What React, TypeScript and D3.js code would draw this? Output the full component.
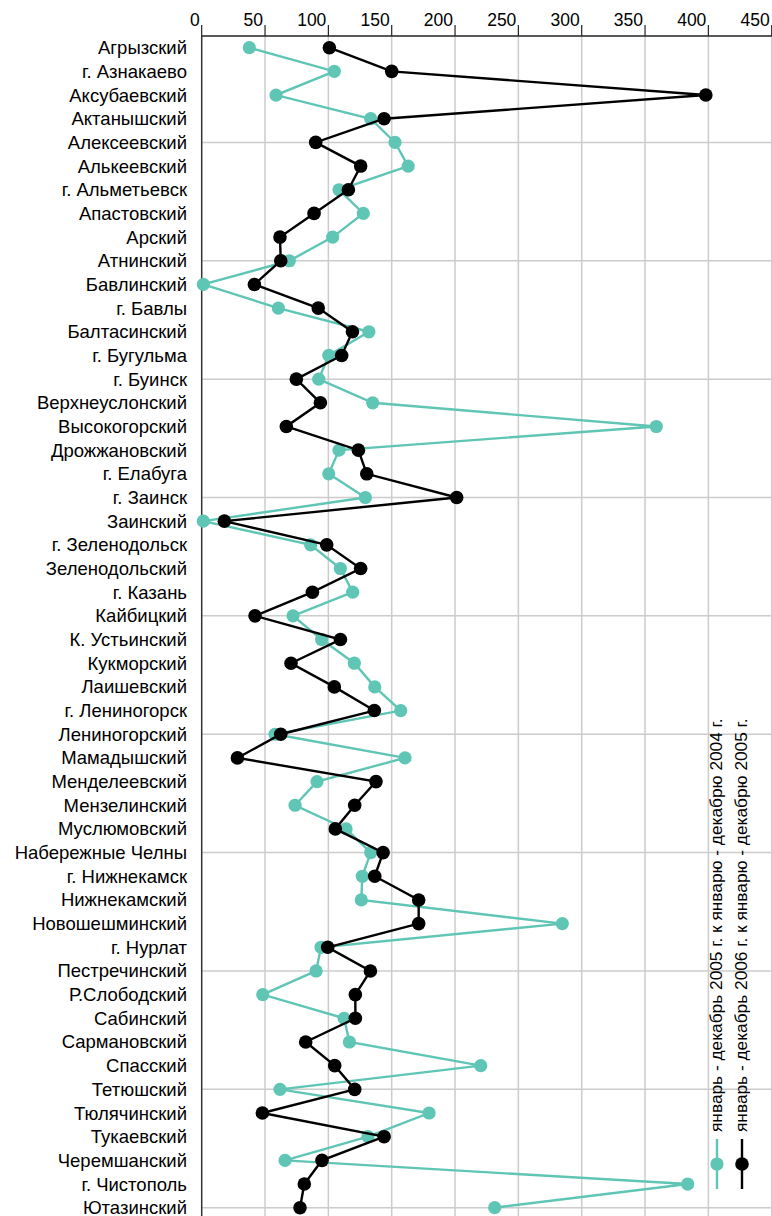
import * as d3 from 'd3'

const categories = [
  'Агрызский', 'г. Азнакаево', 'Аксубаевский', 'Актанышский', 'Алексеевский',
  'Алькеевский', 'г. Альметьевск', 'Апастовский', 'Арский', 'Атнинский',
  'Бавлинский', 'г. Бавлы', 'Балтасинский', 'г. Бугульма', 'г. Буинск',
  'Верхнеуслонский', 'Высокогорский', 'Дрожжановский', 'г. Елабуга', 'г. Заинск',
  'Заинский', 'г. Зеленодольск', 'Зеленодольский', 'г. Казань', 'Кайбицкий',
  'К. Устьинский', 'Кукморский', 'Лаишевский', 'г. Лениногорск', 'Лениногорский',
  'Мамадышский', 'Менделеевский', 'Мензелинский', 'Муслюмовский', 'Набережные Челны',
  'г. Нижнекамск', 'Нижнекамский', 'Новошешминский', 'г. Нурлат', 'Пестречинский',
  'Р.Слободский', 'Сабинский', 'Сармановский', 'Спасский', 'Тетюшский',
  'Тюлячинский', 'Тукаевский', 'Черемшанский', 'г. Чистополь', 'Ютазинский',
]

// январь - декабрь 2005 г. к январю - декабрю 2004 г.
const values2005 = [
  37.6, 104.7, 58.7, 133.4, 152.6, 163, 108.4, 127.6, 103.4, 69.2,
  1.3, 60.5, 132, 100.3, 92.4, 135, 358.9, 108.4, 100.3, 129.2,
  1.3, 86, 109.5, 119.2, 72.1, 94.7, 120.5, 136.6, 157.1, 57.9,
  160.5, 91, 73.7, 114, 133.4, 126.8, 126, 284.7, 94.2, 90.3,
  48.2, 112.4, 116.6, 220.3, 61.8, 179.5, 131.3, 65.8, 383.7, 231.3,
]

// январь - декабрь 2006 г. к январю - декабрю 2005 г.
const values2006 = [
  100.8, 150, 398, 144, 90, 125.5, 115.8, 88.7, 61.8, 62.4,
  41.6, 92, 119, 110.5, 74.7, 93.7, 66.8, 123.7, 130.3, 201.3,
  17.9, 98.7, 125.5, 87.4, 42.1, 109.5, 70.5, 104.7, 136.3, 62.4,
  28.2, 137.6, 120.8, 105.5, 143.2, 136.6, 171.3, 171.3, 99.5, 133.2,
  121.3, 121.3, 82.1, 105, 120.8, 47.9, 144, 95, 81, 77.6,
]

const xTicks = [0, 50, 100, 150, 200, 250, 300, 350, 400, 450]

const legendLabels = [
  'январь - декабрь 2005 г. к январю - декабрю 2004 г.',
  'январь - декабрь 2006 г. к январю - декабрю 2005 г.',
]

const WIDTH = 772
const HEIGHT = 1216
const TEAL = '#5fc5b5'
const GRID = '#cccccc'
const AXIS_Y = 36
const LEFT = 201.7

export default function App() {
  const x = d3.scaleLinear().domain([0, 450]).range([LEFT, 771.7])
  const y = d3.scalePoint<string>().domain(categories).range([47.7, 1207.7])

  const line = d3
    .line<number>()
    .x((d) => x(d))
    .y((_, i) => y(categories[i]) ?? 0)

  const series = [
    { values: values2005, color: TEAL, r: 6.6 },
    { values: values2006, color: '#000', r: 6.8 },
  ]

  const hGrid = categories.filter((_, i) => (i + 1) % 5 === 0)
  const legendX = [717, 742]
  const legendY = 1164

  return (
    <svg
      width={WIDTH}
      height={HEIGHT}
      style={{ position: 'absolute', left: 0, top: 0, background: '#fff' }}
      fontFamily="'Liberation Sans', Arial, sans-serif"
    >
      {/* grid */}
      {xTicks.slice(1).map((t) => (
        <line key={'v' + t} x1={x(t)} x2={x(t)} y1={AXIS_Y} y2={HEIGHT} stroke={GRID} strokeWidth={1.5} />
      ))}
      {hGrid.map((c) => (
        <line key={'h' + c} x1={LEFT} x2={WIDTH} y1={y(c)} y2={y(c)} stroke={GRID} strokeWidth={1.5} />
      ))}

      {/* axes */}
      <line x1={LEFT} x2={WIDTH} y1={AXIS_Y} y2={AXIS_Y} stroke="#222" strokeWidth={1.5} />
      <line x1={LEFT} x2={LEFT} y1={AXIS_Y} y2={HEIGHT} stroke="#333" strokeWidth={1.5} />
      {xTicks.map((t) => (
        <g key={'t' + t}>
          <line x1={x(t)} x2={x(t)} y1={AXIS_Y - 11} y2={AXIS_Y} stroke="#222" strokeWidth={1.2} />
          <text x={x(t) - 2} y={AXIS_Y - 10} textAnchor="end" fontSize={17.5} fill="#000">
            {t}
          </text>
        </g>
      ))}

      {/* category labels */}
      {categories.map((c) => (
        <text key={c} x={187} y={(y(c) ?? 0) + 6.5} textAnchor="end" fontSize={18.5} fill="#000">
          {c}
        </text>
      ))}

      {/* series */}
      {series.map((s, k) => (
        <g key={'s' + k}>
          <path d={line(s.values) ?? ''} fill="none" stroke={s.color} strokeWidth={2.4} />
          {s.values.map((v, i) => (
            <circle key={i} cx={x(v)} cy={y(categories[i])} r={s.r} fill={s.color} />
          ))}
        </g>
      ))}

      {/* legend */}
      {legendLabels.map((label, k) => (
        <g key={'l' + k}>
          <line
            x1={legendX[k]}
            x2={legendX[k]}
            y1={legendY - 25}
            y2={legendY + 25}
            stroke={series[k].color}
            strokeWidth={2.4}
          />
          <circle cx={legendX[k]} cy={legendY} r={series[k].r} fill={series[k].color} />
          <text
            transform={`translate(${legendX[k] + 5},${legendY - 32}) rotate(-90)`}
            fontSize={17.3}
            fill="#000"
          >
            {label}
          </text>
        </g>
      ))}
    </svg>
  )
}
